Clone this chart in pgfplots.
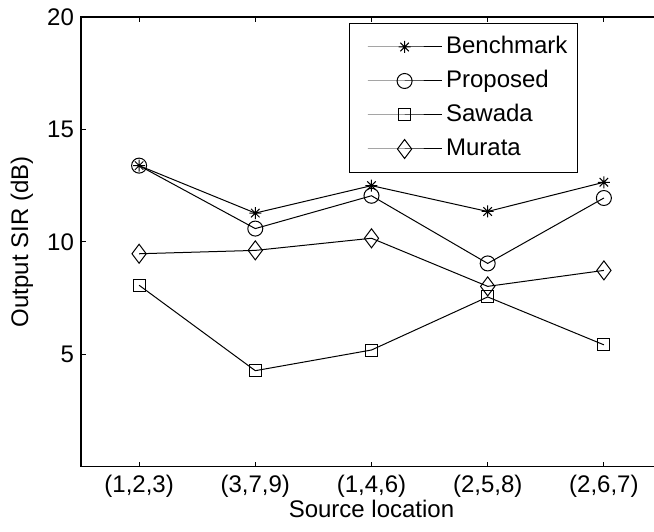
\documentclass[border=0pt]{standalone}
\usepackage{fontspec}
\setmainfont{Liberation Sans}
\usepackage{pgfplots}
\pgfplotsset{compat=1.18}

\pgfdeclareplotmark{ast8}{%
  \pgfpathmoveto{\pgfqpoint{0pt}{\pgfplotmarksize}}%
  \pgfpathlineto{\pgfqpoint{0pt}{-\pgfplotmarksize}}%
  \pgfpathmoveto{\pgfqpoint{\pgfplotmarksize}{0pt}}%
  \pgfpathlineto{\pgfqpoint{-\pgfplotmarksize}{0pt}}%
  \pgfpathmoveto{\pgfqpoint{0.7071\pgfplotmarksize}{0.7071\pgfplotmarksize}}%
  \pgfpathlineto{\pgfqpoint{-0.7071\pgfplotmarksize}{-0.7071\pgfplotmarksize}}%
  \pgfpathmoveto{\pgfqpoint{-0.7071\pgfplotmarksize}{0.7071\pgfplotmarksize}}%
  \pgfpathlineto{\pgfqpoint{0.7071\pgfplotmarksize}{-0.7071\pgfplotmarksize}}%
  \pgfusepathqstroke}

\begin{document}
\begin{tikzpicture}[font=\fontsize{12}{14}\selectfont]
\begin{axis}[
  scale only axis, width=290.5pt, height=224.85pt,
  xmin=0.5, xmax=5.5, ymin=0, ymax=20,
  xtick={1,2,3,4,5},
  xticklabels={(1,2,3),(3,7,9),(1,4,6),(2,5,8),(2,6,7)},
  ytick={5,10,15,20},
  /pgf/number format/assume math mode=true,
  tick align=inside, major tick length=2.5pt,
  axis line style={line width=0.6pt},
  every tick/.style={black, line width=0.4pt},
  xticklabel style={anchor=base, yshift=-13pt},
  xlabel={Source location}, ylabel={Output SIR (dB)},
  every axis x label/.style={at={(axis description cs:0.5,-0.1134)}, anchor=base},
  every axis y label/.style={at={(axis description cs:-0.1015,0.5)}, rotate=90, anchor=center},
  legend cell align=left,
  legend style={at={(axis description cs:0.8554,0.9867)}, anchor=north east,
    draw=black, line width=0.5pt, inner xsep=3pt, inner ysep=4pt,
    nodes={inner sep=2pt, text height=9pt, text depth=2.5pt}, row sep=1.5pt},
  legend image code/.code={\path (-6pt,0pt); \draw[mark repeat=2,mark phase=2,#1] plot coordinates {(0pt,0pt) (18.5pt,0pt) (37pt,0pt)};},
]
\addplot[black, line width=0.5pt, mark=ast8, mark size=3pt] coordinates {(1,13.39) (2,11.28) (3,12.50) (4,11.35) (5,12.65)};
\addlegendentry{Benchmark}
\addplot[black, line width=0.5pt, mark=o, mark size=3.75pt] coordinates {(1,13.39) (2,10.59) (3,12.05) (4,9.04) (5,11.95)};
\addlegendentry{Proposed}
\addplot[black, line width=0.5pt, mark=square, mark size=3pt] coordinates {(1,8.07) (2,4.27) (3,5.19) (4,7.55) (5,5.42)};
\addlegendentry{Sawada}
\addplot[black, line width=0.5pt, mark=diamond, mark size=4.75pt] coordinates {(1,9.47) (2,9.62) (3,10.16) (4,8.02) (5,8.73)};
\addlegendentry{Murata}
\coordinate (sw) at (rel axis cs:0,0);
\coordinate (ne) at (rel axis cs:1,1);
\end{axis}
\pgfresetboundingbox
\path[use as bounding box] ([xshift=-40.5pt,yshift=-32.15pt]sw) rectangle ([xshift=-4pt,yshift=8.5pt]ne);
\end{tikzpicture}
\end{document}
